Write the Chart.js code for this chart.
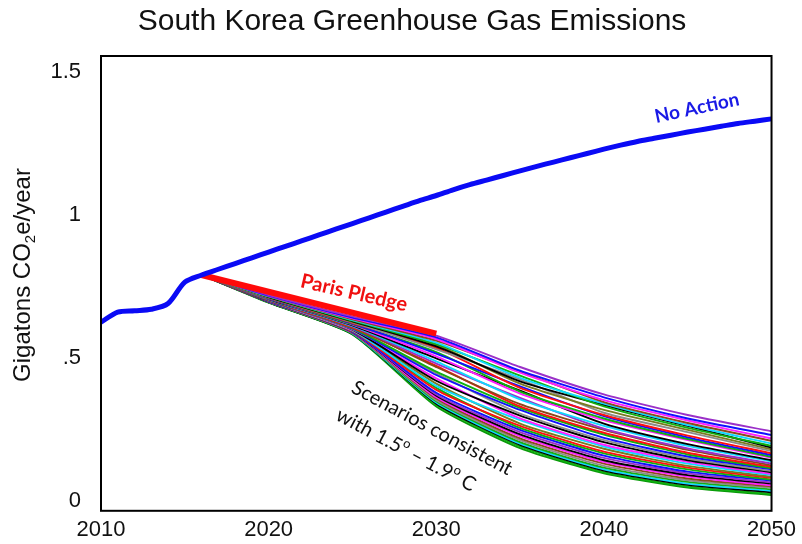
<!DOCTYPE html>
<html>
<head>
<meta charset="utf-8">
<script src="https://cdn.jsdelivr.net/npm/chart.js@4.4.1/dist/chart.umd.min.js"></script>
<style>
  html, body { margin: 0; padding: 0; background: #ffffff; }
  #wrap { width: 802px; height: 544px; }
</style>
</head>
<body>
<div id="wrap"><canvas id="c" width="802" height="544"></canvas></div>
<script>
// ---- data (Gt CO2e per year) ----
const noActionYears = [2010,2011,2012,2013,2014,2015,2016,2017,2018,2019,2020,2021,2022,2023,2024,2025,2026,2027,2028,2029,2030,2031,2032,2033,2034,2035,2036,2037,2038,2039,2040,2041,2042,2043,2044,2045,2046,2047,2048,2049,2050];
const noAction = [0.625,0.660,0.665,0.670,0.690,0.765,0.790,0.810,0.830,0.850,0.870,0.890,0.910,0.930,0.950,0.970,0.990,1.010,1.030,1.050,1.068,1.088,1.106,1.122,1.138,1.154,1.170,1.185,1.200,1.215,1.230,1.244,1.257,1.268,1.279,1.290,1.300,1.310,1.320,1.328,1.336];

const pledgeYears = [2016, 2030];
const pledge = [0.790, 0.585];

const scenarioYears = [2016, 2020, 2025, 2030, 2035, 2040, 2045, 2050];
const s01 = [0.79,0.720,0.645,0.578,0.468,0.372,0.300,0.243];
const s02 = [0.79,0.718,0.641,0.572,0.455,0.362,0.288,0.230];
const s03 = [0.79,0.717,0.638,0.566,0.448,0.352,0.281,0.218];
const s04 = [0.79,0.716,0.635,0.560,0.452,0.345,0.272,0.210];
const s05 = [0.79,0.715,0.632,0.553,0.430,0.340,0.265,0.200];
const s06 = [0.79,0.714,0.630,0.548,0.438,0.330,0.255,0.192];
const s07 = [0.79,0.713,0.628,0.540,0.418,0.335,0.262,0.186];
const s08 = [0.79,0.712,0.626,0.545,0.410,0.318,0.248,0.180];
const s09 = [0.79,0.711,0.624,0.530,0.425,0.308,0.240,0.174];
const s10 = [0.79,0.710,0.622,0.535,0.395,0.300,0.228,0.166];
const s11 = [0.79,0.709,0.620,0.515,0.400,0.296,0.222,0.160];
const s12 = [0.79,0.708,0.618,0.520,0.382,0.288,0.216,0.154];
const s13 = [0.79,0.707,0.616,0.505,0.375,0.282,0.212,0.150];
const s14 = [0.79,0.706,0.614,0.498,0.385,0.270,0.198,0.142];
const s15 = [0.79,0.705,0.612,0.488,0.355,0.262,0.192,0.138];
const s16 = [0.79,0.705,0.610,0.480,0.360,0.252,0.183,0.130];
const s17 = [0.79,0.704,0.608,0.468,0.338,0.248,0.178,0.124];
const s18 = [0.79,0.703,0.606,0.472,0.330,0.238,0.168,0.119];
const s19 = [0.79,0.703,0.604,0.452,0.325,0.232,0.162,0.114];
const s20 = [0.79,0.702,0.602,0.440,0.318,0.220,0.155,0.110];
const s21 = [0.79,0.702,0.600,0.446,0.305,0.212,0.148,0.104];
const s22 = [0.79,0.701,0.599,0.420,0.298,0.205,0.142,0.100];
const s23 = [0.79,0.701,0.597,0.428,0.288,0.196,0.136,0.094];
const s24 = [0.79,0.700,0.596,0.402,0.282,0.190,0.130,0.090];
const s25 = [0.79,0.700,0.595,0.410,0.270,0.182,0.122,0.084];
const s26 = [0.79,0.699,0.594,0.388,0.262,0.172,0.116,0.080];
const s27 = [0.79,0.699,0.593,0.395,0.255,0.166,0.110,0.074];
const s28 = [0.79,0.698,0.592,0.378,0.248,0.158,0.102,0.070];
const s29 = [0.79,0.698,0.591,0.372,0.240,0.150,0.096,0.064];
const s30 = [0.79,0.697,0.590,0.368,0.232,0.142,0.090,0.060];
const s31 = [0.79,0.697,0.589,0.362,0.226,0.136,0.085,0.054];
const s32 = [0.79,0.696,0.588,0.358,0.218,0.130,0.078,0.050];
const s33 = [0.79,0.696,0.587,0.352,0.212,0.122,0.072,0.045];
const s34 = [0.79,0.695,0.586,0.348,0.205,0.116,0.066,0.040];
const s35 = [0.79,0.695,0.585,0.344,0.200,0.110,0.060,0.035];
const s36 = [0.79,0.694,0.584,0.340,0.196,0.106,0.056,0.030];
const s37 = [0.79,0.694,0.583,0.336,0.190,0.100,0.050,0.024];
const s38 = [0.79,0.693,0.582,0.330,0.184,0.096,0.046,0.020];
const scenarios = [s01,s02,s03,s04,s05,s06,s07,s08,s09,s10,s11,s12,s13,s14,s15,s16,s17,s18,s19,s20,
                   s21,s22,s23,s24,s25,s26,s27,s28,s29,s30,s31,s32,s33,s34,s35,s36,s37,s38];
const scenarioColors = ['#9b30c8','#1010ff','#ff20ff','#8b4a1a','#10d8ff','#10b010','#000000','#7a7a20','#8c8c8c','#ff1010',
                        '#1010ff','#10b010','#ff20ff','#000000','#10d8ff','#9b30c8','#8b4a1a','#ff1010','#10b010','#1010ff',
                        '#8c8c8c','#000000','#ff20ff','#10d8ff','#7a7a20','#ff1010','#10b010','#1010ff','#9b30c8','#000000',
                        '#ff20ff','#8b4a1a','#8c8c8c','#10b010','#10d8ff','#000000','#10b010','#0a9a0a'];

const yTicks = [0, 0.5, 1, 1.5];
const yTickLabels = ['0', '.5', '1', '1.5'];
const xTicks = [2010, 2020, 2030, 2040, 2050];

// ---- datasets ----
const toPoints = (xs, ys) => xs.map((x, i) => ({ x: x, y: ys[i] }));

const datasets = [
  { label: 'No Action', data: toPoints(noActionYears, noAction), borderColor: '#0a0af5', borderWidth: 5,
    pointRadius: 0, tension: 0.3, order: 0, borderCapStyle: 'round', borderJoinStyle: 'round' },
  { label: 'Paris Pledge', data: toPoints(pledgeYears, pledge), borderColor: '#ff0a0a', borderWidth: 6,
    pointRadius: 0, order: 1 }
];
scenarios.forEach((s, i) => {
  datasets.push({ label: 'Scenario ' + (i + 1), data: toPoints(scenarioYears, s), borderColor: scenarioColors[i],
    borderWidth: 1.9, pointRadius: 0, tension: 0.2, order: 2 });
});

// ---- frame, title and in-plot labels ----
const decorations = {
  id: 'decorations',
  afterDraw(chart) {
    const ctx = chart.ctx;
    const a = chart.chartArea;
    ctx.save();
    // plot frame
    ctx.strokeStyle = '#000';
    ctx.lineWidth = 2;
    ctx.strokeRect(a.left, a.top, a.right - a.left, a.bottom - a.top);

    // title
    ctx.fillStyle = '#111';
    ctx.font = '30px "Liberation Sans", Arial, sans-serif';
    ctx.textAlign = 'center';
    ctx.textBaseline = 'middle';
    ctx.fillText('South Korea Greenhouse Gas Emissions', 412, 22);

    // y-axis title with subscript
    ctx.save();
    ctx.translate(22, 275);
    ctx.rotate(-Math.PI / 2);
    const f1 = '24px "Liberation Sans", Arial, sans-serif';
    const f2 = '15px "Liberation Sans", Arial, sans-serif';
    ctx.textAlign = 'left';
    ctx.textBaseline = 'alphabetic';
    ctx.font = f1; const w1 = ctx.measureText('Gigatons CO').width;
    ctx.font = f2; const w2 = ctx.measureText('2').width;
    ctx.font = f1; const w3 = ctx.measureText('e/year').width;
    let x0 = -(w1 + w2 + w3) / 2;
    ctx.font = f1; ctx.fillText('Gigatons CO', x0, 8);
    ctx.font = f2; ctx.fillText('2', x0 + w1, 13);
    ctx.font = f1; ctx.fillText('e/year', x0 + w1 + w2, 8);
    ctx.restore();

    // No Action label
    ctx.save();
    ctx.translate(697, 108);
    ctx.rotate(-12 * Math.PI / 180);
    ctx.fillStyle = '#1a1ae6';
    ctx.font = 'bold 19px Lato, "Open Sans", sans-serif';
    ctx.textAlign = 'center';
    ctx.textBaseline = 'middle';
    ctx.fillText('No Action', 0, 0);
    ctx.restore();

    // Paris Pledge label
    ctx.save();
    ctx.translate(354, 293);
    ctx.rotate(13 * Math.PI / 180);
    ctx.fillStyle = '#f01010';
    ctx.font = 'bold 20px Lato, "Open Sans", sans-serif';
    ctx.textAlign = 'center';
    ctx.textBaseline = 'middle';
    ctx.fillText('Paris Pledge', 0, 0);
    ctx.restore();

    // Scenarios label (two lines, with superscript degree marks)
    const fs = '20px Lato, "Open Sans", sans-serif';
    const fsup = '13px Lato, "Open Sans", sans-serif';
    ctx.fillStyle = '#111';
    ctx.save();
    ctx.translate(432, 428);
    ctx.rotate(28 * Math.PI / 180);
    ctx.font = fs;
    ctx.textAlign = 'center';
    ctx.textBaseline = 'middle';
    ctx.fillText('Scenarios consistent', 0, 0);
    ctx.restore();

    ctx.save();
    ctx.translate(406, 450);
    ctx.rotate(28 * Math.PI / 180);
    ctx.textAlign = 'left';
    ctx.textBaseline = 'middle';
    const parts = [['with 1.5', fs, 0], ['o', fsup, -6], [' \u2013 1.9', fs, 0], ['o', fsup, -6], [' C', fs, 0]];
    let total = 0;
    parts.forEach(p => { ctx.font = p[1]; total += ctx.measureText(p[0]).width; });
    let px = -total / 2;
    parts.forEach(p => { ctx.font = p[1]; ctx.fillText(p[0], px, p[2]); px += ctx.measureText(p[0]).width; });
    ctx.restore();

    ctx.restore();
  }
};

new Chart(document.getElementById('c'), {
  type: 'line',
  data: { datasets: datasets },
  options: {
    responsive: false,
    animation: false,
    layout: { padding: { top: 56, right: 24, left: 0, bottom: 0 } },
    plugins: { legend: { display: false }, tooltip: { enabled: false }, title: { display: false } },
    scales: {
      x: {
        type: 'linear', min: 2010, max: 2050,
        grid: { display: false, drawTicks: false },
        border: { display: false },
        afterFit(scale) { scale.height = 32; },
        afterBuildTicks(scale) { scale.ticks = xTicks.map(v => ({ value: v })); },
        ticks: { padding: 6, color: '#111', font: { family: '"Liberation Sans", Arial, sans-serif', size: 22 },
                 callback: v => String(v), maxRotation: 0 }
      },
      y: {
        type: 'linear', min: -0.035, max: 1.556,
        grid: { display: false, drawTicks: false },
        border: { display: false },
        afterFit(scale) { scale.width = 101; },
        afterBuildTicks(scale) { scale.ticks = yTicks.map(v => ({ value: v })); },
        ticks: { padding: 20, color: '#111', font: { family: '"Liberation Sans", Arial, sans-serif', size: 22 },
                 callback: (v) => yTickLabels[yTicks.indexOf(v)] }
      }
    }
  },
  plugins: [decorations]
});
</script>
</body>
</html>
